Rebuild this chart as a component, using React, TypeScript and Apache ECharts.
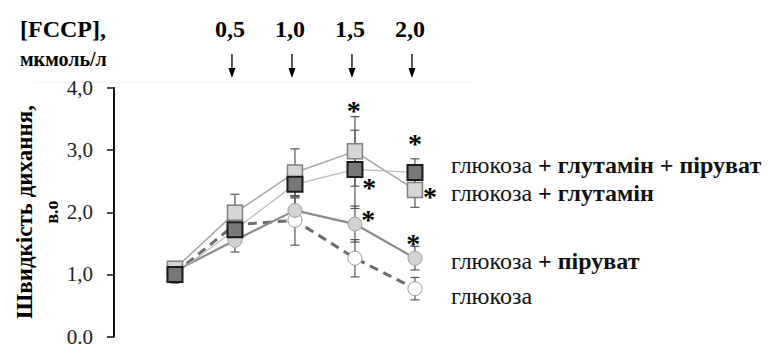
import React, { useEffect, useRef } from "react";
import * as echarts from "echarts";

const concentrations = [0, 0.5, 1.0, 1.5, 2.0];
const fccpLabels = ["0,5", "1,0", "1,5", "2,0"];
const yTickLabels = ["0.0", "1,0", "2,0", "3,0", "4,0"];

const glucose = [1.02, 1.8, 1.87, 1.26, 0.77];
const glucoseErr = [0.1, 0.2, 0.4, 0.3, 0.18];
const glucosePyruvate = [1.05, 1.55, 2.03, 1.81, 1.26];
const glucosePyruvateErr = [0.08, 0.19, 0.2, 0.29, 0.19];
const glucoseGlutamine = [1.09, 1.99, 2.64, 2.98, 2.36];
const glucoseGlutamineErr = [0.1, 0.3, 0.38, 0.56, 0.28];
const glucoseGlutaminePyruvate = [1.0, 1.72, 2.45, 2.69, 2.64];
const glucoseGlutaminePyruvateErr = [0.14, 0.15, 0.2, 0.63, 0.22];

const asteriskX = [1.49, 1.62, 1.61, 2.0, 2.125, 1.985];
const asteriskY = [3.77, 2.53, 2.02, 3.23, 2.39, 1.62];

const legendTexts = [
  "{n|глюкоза }{b|+ глутамін + піруват}",
  "{n|глюкоза }{b|+ глутамін}",
  "{n|глюкоза }{b|+ піруват}",
  "{n|глюкоза}",
];

const FONT = "Liberation Serif";

function errSeries(values: number[], errs: number[], z: number) {
  return {
    type: "custom",
    z,
    silent: true,
    data: concentrations.map((c, i) => [c, values[i], errs[i]]),
    renderItem: (params: any, api: any) => {
      const x = api.value(0);
      const y = api.value(1);
      const e = api.value(2);
      const top = api.coord([x, y + e]);
      const bot = api.coord([x, y - e]);
      const hw = 4.5;
      const style = { stroke: "#555", lineWidth: 1.2 };
      return {
        type: "group",
        children: [
          { type: "line", shape: { x1: top[0], y1: top[1], x2: bot[0], y2: bot[1] }, style },
          { type: "line", shape: { x1: top[0] - hw, y1: top[1], x2: top[0] + hw, y2: top[1] }, style },
          { type: "line", shape: { x1: bot[0] - hw, y1: bot[1], x2: bot[0] + hw, y2: bot[1] }, style },
        ],
      };
    },
  };
}

export default function App() {
  const ref = useRef<HTMLDivElement>(null);
  useEffect(() => {
    const chart = echarts.init(ref.current!, null, { renderer: "svg" });
    const rich = {
      n: { fontFamily: FONT, fontSize: 24, fontWeight: "normal", color: "#111" },
      b: { fontFamily: FONT, fontSize: 24, fontWeight: "bold", color: "#111" },
    };
    const legendTops = [153, 181, 249, 284];
    const option: any = {
      animation: false,
      textStyle: { fontFamily: FONT },
      title: legendTexts.map((t, i) => ({
        text: t,
        left: 451,
        top: legendTops[i],
        padding: 0,
        textStyle: { fontFamily: FONT, fontSize: 24, fontWeight: "normal", color: "#111", rich },
      })),
      grid: { left: 114, top: 88, width: 360, height: 250 },
      xAxis: {
        type: "value",
        min: -0.508,
        max: 2.492,
        show: false,
      },
      yAxis: {
        type: "value",
        min: 0,
        max: 4,
        interval: 1,
        splitLine: { show: false },
        axisLine: { show: true, onZero: false, lineStyle: { color: "#111", width: 2 } },
        axisTick: { show: true, length: 7, lineStyle: { color: "#111", width: 1.5 } },
        axisLabel: {
          margin: 21,
          color: "#222",
          fontFamily: FONT,
          fontSize: 21,
          formatter: (v: number) => yTickLabels[Math.round(v)],
        },
      },
      series: [
        errSeries(glucose, glucoseErr, 1),
        errSeries(glucosePyruvate, glucosePyruvateErr, 1),
        errSeries(glucoseGlutamine, glucoseGlutamineErr, 1),
        errSeries(glucoseGlutaminePyruvate, glucoseGlutaminePyruvateErr, 1),
        {
          type: "line",
          z: 2,
          data: concentrations.map((c, i) => [c, glucose[i]]),
          symbol: "circle",
          symbolSize: 14,
          lineStyle: { color: "#6e6e6e", width: 3, type: [9, 6] },
          itemStyle: { color: "#ffffff", borderColor: "#999", borderWidth: 1 },
        },
        {
          type: "line",
          z: 3,
          data: concentrations.map((c, i) => [c, glucosePyruvate[i]]),
          symbol: "circle",
          symbolSize: 14,
          lineStyle: { color: "#8c8c8c", width: 2.2 },
          itemStyle: { color: "#d3d3d3", borderColor: "#a0a0a0", borderWidth: 1 },
        },
        {
          type: "line",
          z: 4,
          data: concentrations.map((c, i) => [c, glucoseGlutamine[i]]),
          symbol: "rect",
          symbolSize: 15,
          lineStyle: { color: "#a6a6a6", width: 1.5 },
          itemStyle: { color: "#d6d6d6", borderColor: "#808080", borderWidth: 1.5 },
        },
        {
          type: "line",
          z: 5,
          data: concentrations.map((c, i) => [c, glucoseGlutaminePyruvate[i]]),
          symbol: "rect",
          symbolSize: 15,
          lineStyle: { color: "#b8b8b8", width: 1.2 },
          itemStyle: { color: "#787878", borderColor: "#1a1a1a", borderWidth: 2 },
        },
        {
          type: "custom",
          z: 6,
          silent: true,
          data: asteriskX.map((x, i) => [x, asteriskY[i]]),
          renderItem: (params: any, api: any) => {
            const p = api.coord([api.value(0), api.value(1)]);
            return {
              type: "text",
              x: p[0],
              y: p[1] + 8,
              style: {
                text: "*",
                font: `bold 28px ${FONT}`,
                fill: "#000",
                textAlign: "center",
                textVerticalAlign: "middle",
              },
            };
          },
        },
      ],
    };
    chart.setOption(option);

    const graphics: any[] = [];
    graphics.push({
      type: "line",
      shape: { x1: 35, y1: 82, x2: 470, y2: 82 },
      style: { stroke: "#f0f0f0", lineWidth: 1 },
    });
    graphics.push({
      type: "text",
      x: 20,
      y: 29,
      style: { text: "[FCCP],", font: `bold 24px ${FONT}`, fill: "#000", textVerticalAlign: "middle" },
    });
    graphics.push({
      type: "text",
      x: 20,
      y: 59,
      style: { text: "мкмоль/л", font: `bold 20px ${FONT}`, fill: "#000", textVerticalAlign: "middle" },
    });
    concentrations.slice(1).forEach((c, i) => {
      const px = chart.convertToPixel({ xAxisIndex: 0 }, c) as number;
      const ax = px - 3;
      graphics.push({
        type: "text",
        x: ax - 2,
        y: 29,
        style: {
          text: fccpLabels[i],
          font: `bold 24px ${FONT}`,
          fill: "#000",
          textAlign: "center",
          textVerticalAlign: "middle",
        },
      });
      graphics.push({
        type: "line",
        shape: { x1: ax, y1: 54, x2: ax, y2: 70 },
        style: { stroke: "#000", lineWidth: 1.3 },
      });
      graphics.push({
        type: "polygon",
        shape: { points: [[ax - 3.5, 68], [ax + 3.5, 68], [ax, 78]] },
        style: { fill: "#000" },
      });
    });
    graphics.push({
      type: "text",
      x: 24,
      y: 212,
      rotation: Math.PI / 2,
      style: {
        text: "Швидкість дихання,",
        font: `bold 23px ${FONT}`,
        fill: "#000",
        textAlign: "center",
        textVerticalAlign: "middle",
      },
    });
    graphics.push({
      type: "text",
      x: 52,
      y: 212,
      rotation: Math.PI / 2,
      style: {
        text: "в.о",
        font: `bold 18px ${FONT}`,
        fill: "#000",
        textAlign: "center",
        textVerticalAlign: "middle",
      },
    });
    chart.setOption({ graphic: graphics });

    return () => chart.dispose();
  }, []);
  return (
    <div
      ref={ref}
      style={{ position: "fixed", left: 0, top: 0, width: 769, height: 347, background: "#fff" }}
    />
  );
}
